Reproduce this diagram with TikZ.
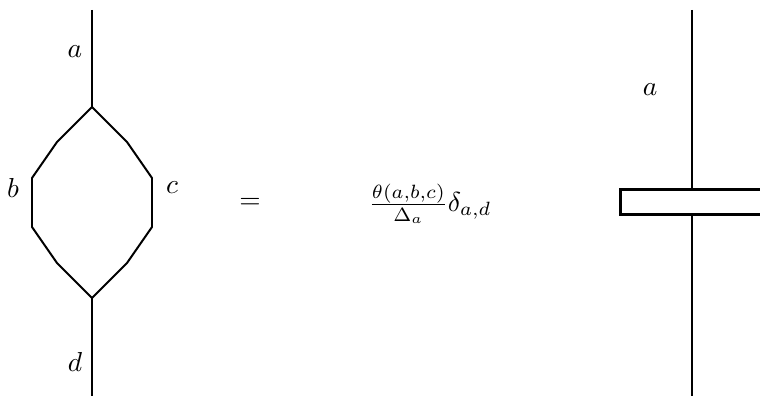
\documentclass[tikz,border=0pt]{standalone}
\usepackage{amsmath,amssymb}
\usetikzlibrary{calc}

\begin{document}
\begin{tikzpicture}[x=0.64cm,y=0.64cm,
			strand/.style={line width=0.9pt},
			wire/.style={line width=1.3pt},
			jw/.style={draw,line width=1.3pt,fill=white,rectangle,anchor=west,
				minimum width=3cm,minimum height=0.4cm,inner sep=0pt},
			lbl/.style={inner sep=1pt,scale=1.25}]
			
			\useasboundingbox (0,0) rectangle (19,9.9);
			
			% Left: bubble on the strand
			\coordinate (top) at (2.3,9.65);
			\coordinate (up) at (2.3,7.225);
			\coordinate (dn) at (2.3,2.45);
			\coordinate (bot) at (2.3,0);
			\coordinate (l1) at (1.425,6.35);
			\coordinate (l2) at (0.8,5.45);
			\coordinate (l3) at (0.8,4.225);
			\coordinate (l4) at (1.425,3.325);
			\coordinate (r1) at (3.175,6.35);
			\coordinate (r2) at (3.8,5.45);
			\coordinate (r3) at (3.8,4.225);
			\coordinate (r4) at (3.175,3.325);
			\draw[strand] (top) -- (up);
			\draw[strand] (up) -- (l1) -- (l2) -- (l3) -- (l4) -- (dn);
			\draw[strand] (up) -- (r1) -- (r2) -- (r3) -- (r4) -- (dn);
			\draw[strand] (dn) -- (bot);
			\node[lbl] (la) at (1.875,8.6) {$a$};
			\node[lbl] (lb) at (0.325,5.2) {$b$};
			\node[lbl] (lc) at (4.3,5.2) {$c$};
			\node[lbl] (ld) at (1.875,0.85) {$d$};
			
			% Middle
			\node[lbl] (eq) at (6.25,4.825) {$=$};
			\node[lbl] (coef) at (10.75,4.8) {$\frac{\theta(a,b,c)}{\Delta_a}\delta_{a,d}$};
			
			% Right: strand with projector box
			\node[jw] (box) at (15.475,4.84) {};
			\coordinate (rtop) at (17.3,9.65);
			\coordinate (rbot) at (17.3,0);
			\draw[wire] (rtop) -- (rtop |- box.north);
			\draw[wire] (rbot |- box.south) -- (rbot);
			\node[lbl] (ra) at (16.25,7.65) {$a$};
			
		\end{tikzpicture}
\end{document}
